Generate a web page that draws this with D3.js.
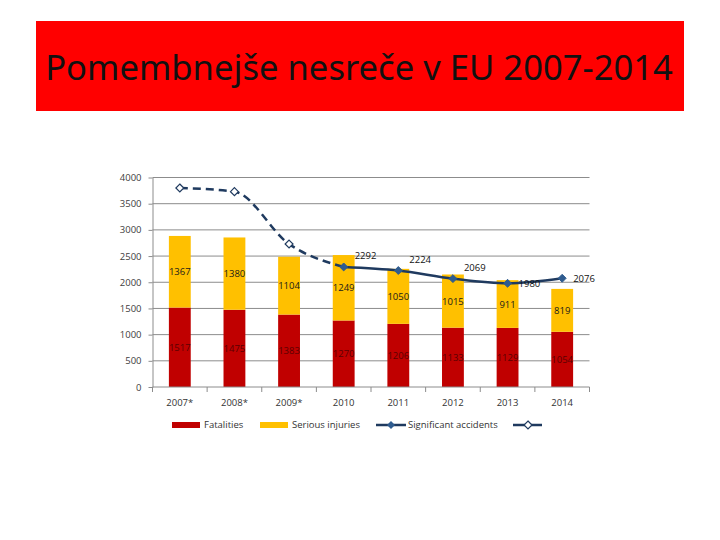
<!DOCTYPE html>
<html>
<head>
<meta charset="utf-8">
<script src="https://cdn.jsdelivr.net/npm/d3@7"></script>
<style>
  body { margin: 0; background: #fff; }
  svg { display: block; }
</style>
</head>
<body>
<div id="chart"></div>
<script>
// ---- data ----
const years = ["2007*", "2008*", "2009*", "2010", "2011", "2012", "2013", "2014"]
const fatalities = [1517, 1475, 1383, 1270, 1206, 1133, 1129, 1054]
const seriousInjuries = [1367, 1380, 1104, 1249, 1050, 1015, 911, 819]
const significantAccidents = [null, null, null, 2292, 2224, 2069, 1980, 2076]
const estimatedAccidents = [3800, 3730, 2730, 2292, null, null, null, null]
const yTicks = [0, 500, 1000, 1500, 2000, 2500, 3000, 3500, 4000]
const titleText = "Pomembnejše nesreče v EU 2007-2014"

// ---- setup ----
const w = 720, h = 540
const red = "#C00000", gold = "#FFC000", navy = "#1F3A5F", marker = "#2F5C8F"
const font = "'Open Sans', sans-serif"

const svg = d3.select("#chart").append("svg").attr("width", w).attr("height", h)

// title box
svg.append("rect").attr("x", 36).attr("y", 21).attr("width", 648).attr("height", 90).attr("fill", "#FF0000")
const title = svg.append("text")
  .attr("x", 359).attr("y", 80)
  .attr("text-anchor", "middle")
  .attr("font-family", "'Noto Sans', sans-serif")
  .attr("font-size", 32)
  .attr("fill", "#111")
  .text(titleText)
// fit title width to ~628px
const tl = title.node().getComputedTextLength()
title.attr("font-size", 32 * 628 / tl)

// scales
const x = d3.scaleBand().domain(years).range([152.5, 589.5]).paddingInner(0.6).paddingOuter(0.3)
const y = d3.scaleLinear().domain([0, 4000]).range([387, 177.5])
const xc = d => x(d) + x.bandwidth() / 2

// gridlines
svg.append("g").selectAll("line").data(yTicks.slice(1)).join("line")
  .attr("x1", 152.5).attr("x2", 589.5)
  .attr("y1", d => y(d)).attr("y2", d => y(d))
  .attr("stroke", "#8c8c8c").attr("stroke-width", 1)

// y axis
const yAxis = svg.append("g").attr("transform", "translate(152.5,0)")
  .call(d3.axisLeft(y).tickValues(yTicks).tickFormat(d3.format("d")).tickSize(4).tickSizeOuter(0).tickPadding(7))
yAxis.select(".domain").attr("stroke", "#8c8c8c")
yAxis.selectAll(".tick line").attr("stroke", "#8c8c8c")
yAxis.selectAll("text").attr("font-family", font).attr("font-size", 9.5).attr("fill", "#404040")

// stacked bars
const rows = years.map((yr, i) => ({ year: yr, fatalities: fatalities[i], serious: seriousInjuries[i] }))
const stack = d3.stack().keys(["fatalities", "serious"])(rows)
const colors = [red, gold]

svg.append("g").selectAll("g").data(stack).join("g")
  .attr("fill", (d, i) => colors[i])
  .selectAll("rect").data(d => d).join("rect")
  .attr("x", d => x(d.data.year))
  .attr("width", x.bandwidth())
  .attr("y", d => y(d[1]))
  .attr("height", d => y(d[0]) - y(d[1]))

// bar labels
svg.append("g").selectAll("g").data(stack).join("g")
  .attr("fill", (d, i) => i === 0 ? "#5a0000" : "#1a1a1a")
  .selectAll("text").data(d => d).join("text")
  .attr("x", d => xc(d.data.year))
  .attr("y", d => (y(d[0]) + y(d[1])) / 2 + 3.5)
  .attr("text-anchor", "middle")
  .attr("font-family", font)
  .attr("font-size", 9.5)
  .text(d => d[1] - d[0])

// x axis
const xAxis = svg.append("g").attr("transform", "translate(0,387)")
xAxis.append("line").attr("x1", 152.5).attr("x2", 589.5).attr("stroke", "#8c8c8c")
const step = x.step()
xAxis.selectAll(".tk").data(d3.range(years.length + 1)).join("line")
  .attr("class", "tk")
  .attr("x1", i => 152.5 + i * step).attr("x2", i => 152.5 + i * step)
  .attr("y1", 0).attr("y2", 5)
  .attr("stroke", "#8c8c8c")
xAxis.selectAll("text").data(years).join("text")
  .attr("x", d => xc(d)).attr("y", 19)
  .attr("text-anchor", "middle")
  .attr("font-family", font).attr("font-size", 9.5).attr("fill", "#333")
  .text(d => d)

// lines
const line = d3.line()
  .defined(d => d.v != null)
  .x(d => xc(d.year)).y(d => y(d.v))
  .curve(d3.curveMonotoneX)

const estPts = years.map((yr, i) => ({ year: yr, v: estimatedAccidents[i] }))
const sigPts = years.map((yr, i) => ({ year: yr, v: significantAccidents[i] }))

svg.append("path").datum(estPts)
  .attr("d", line).attr("fill", "none")
  .attr("stroke", navy).attr("stroke-width", 2.5)
  .attr("stroke-dasharray", "8,5")

svg.append("path").datum(sigPts)
  .attr("d", line).attr("fill", "none")
  .attr("stroke", navy).attr("stroke-width", 2.5)

const diamond = d3.symbol().type(d3.symbolDiamond2).size(40)

svg.append("g").selectAll("path").data(estPts.filter((d, i) => d.v != null && i < 3)).join("path")
  .attr("d", diamond)
  .attr("transform", d => `translate(${xc(d.year)},${y(d.v)})`)
  .attr("fill", "#fff").attr("stroke", navy).attr("stroke-width", 1.2)

svg.append("g").selectAll("path").data(sigPts.filter(d => d.v != null)).join("path")
  .attr("d", diamond)
  .attr("transform", d => `translate(${xc(d.year)},${y(d.v)})`)
  .attr("fill", marker).attr("stroke", marker)

// line value labels (above-right, last two to the right)
svg.append("g").selectAll("text").data(sigPts.filter(d => d.v != null)).join("text")
  .attr("x", d => xc(d.year) + 11)
  .attr("y", (d, i) => y(d.v) + (i < 3 ? -8 : 3.5))
  .attr("font-family", font).attr("font-size", 9.5).attr("fill", "#111")
  .text(d => d.v)

// legend
const lg = svg.append("g").attr("font-family", font).attr("font-size", 9.5).attr("fill", "#333")
lg.append("rect").attr("x", 172).attr("y", 422).attr("width", 28).attr("height", 6).attr("fill", red)
lg.append("text").attr("x", 204).attr("y", 428).text("Fatalities")
lg.append("rect").attr("x", 260).attr("y", 422).attr("width", 28).attr("height", 6).attr("fill", gold)
lg.append("text").attr("x", 292).attr("y", 428).text("Serious injuries")
lg.append("line").attr("x1", 376).attr("x2", 406).attr("y1", 425).attr("y2", 425).attr("stroke", navy).attr("stroke-width", 2.5)
lg.append("path").attr("d", diamond).attr("transform", "translate(391,425)").attr("fill", marker)
lg.append("text").attr("x", 408).attr("y", 428).text("Significant accidents")
lg.append("line").attr("x1", 513).attr("x2", 542).attr("y1", 425).attr("y2", 425).attr("stroke", navy).attr("stroke-width", 2.5)
lg.append("path").attr("d", diamond).attr("transform", "translate(528,425)").attr("fill", "#fff").attr("stroke", navy).attr("stroke-width", 1.2)
</script>
</body>
</html>
